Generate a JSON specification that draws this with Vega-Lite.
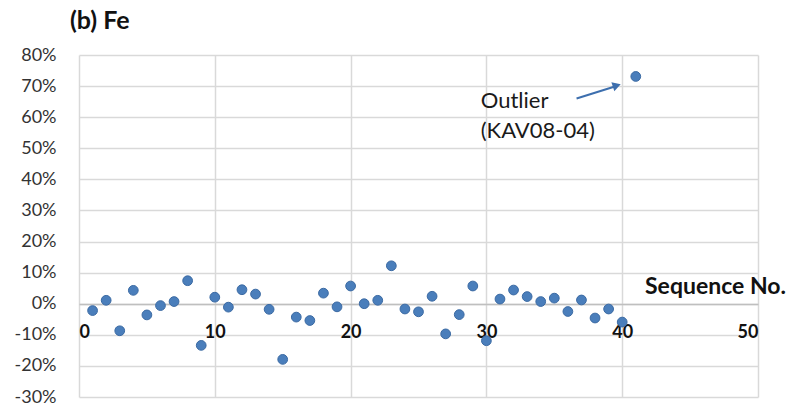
{
  "$schema": "https://vega.github.io/schema/vega-lite/v6.json",
  "width": 679,
  "height": 342,
  "autosize": "none",
  "padding": {"left": 79, "top": 55, "right": 33, "bottom": 22},
  "background": "white",
  "title": {"text": "(b) Fe", "anchor": "start", "frame": "group", "dx": -9, "dy": 27, "offset": 14, "fontSize": 25, "font": "Lato", "fontWeight": "bold", "color": "#111111", "baseline": "bottom"},
  "config": {"view": {"stroke": null}, "font": "Lato", "axisY": {"grid": true, "gridColor": "#d9d9d9", "gridWidth": 1.5}},
  "encoding": {
    "x": {"field": "seq", "type": "quantitative", "scale": {"domain": [0, 50], "nice": false},
      "axis": {"values": [0, 10, 20, 30, 40, 50], "offset": -93, "ticks": false, "domainColor": "#bfbfbf", "domainWidth": 1.5,
        "grid": true, "gridColor": "#d9d9d9", "gridWidth": 1.5, "labelFont": "Lato", "labelFontSize": 18, "labelFontWeight": "bold", "labelColor": "#111111",
        "labelPadding": 19, "labelBaseline": "top", "labelOverlap": false,
        "title": "Sequence No.", "titleFont": "Lato", "titleFontSize": 23, "titleFontWeight": "bold", "titleColor": "#111111",
        "titleX": 636, "titleY": -18, "titleAnchor": null, "titleAlign": "center", "titleBaseline": "middle"}},
    "y": {"field": "diff", "type": "quantitative", "scale": {"domain": [-0.3, 0.8], "nice": false, "zero": false},
      "axis": {"values": [-0.3, -0.2, -0.1, 0, 0.1, 0.2, 0.3, 0.4, 0.5, 0.6, 0.7, 0.8], "labelExpr": "round(datum.value*100) + '%'",
        "ticks": false, "domain": false, "labelFont": "Lato", "labelFontSize": 18,
        "labelColor": "#333333", "labelPadding": 23, "labelOverlap": false, "labelFlush": false, "title": null}}
  },
  "layer": [
    {
      "data": {"values": [
        {"seq": 1, "diff": -0.022}, {"seq": 2, "diff": 0.011}, {"seq": 3, "diff": -0.087}, {"seq": 4, "diff": 0.043},
        {"seq": 5, "diff": -0.036}, {"seq": 6, "diff": -0.006}, {"seq": 7, "diff": 0.007}, {"seq": 8, "diff": 0.074},
        {"seq": 9, "diff": -0.134}, {"seq": 10, "diff": 0.021}, {"seq": 11, "diff": -0.011}, {"seq": 12, "diff": 0.045},
        {"seq": 13, "diff": 0.031}, {"seq": 14, "diff": -0.018}, {"seq": 15, "diff": -0.179}, {"seq": 16, "diff": -0.043},
        {"seq": 17, "diff": -0.054}, {"seq": 18, "diff": 0.034}, {"seq": 19, "diff": -0.010}, {"seq": 20, "diff": 0.057},
        {"seq": 21, "diff": 0.000}, {"seq": 22, "diff": 0.011}, {"seq": 23, "diff": 0.122}, {"seq": 24, "diff": -0.017},
        {"seq": 25, "diff": -0.026}, {"seq": 26, "diff": 0.024}, {"seq": 27, "diff": -0.097}, {"seq": 28, "diff": -0.035},
        {"seq": 29, "diff": 0.057}, {"seq": 30, "diff": -0.119}, {"seq": 31, "diff": 0.015}, {"seq": 32, "diff": 0.044},
        {"seq": 33, "diff": 0.023}, {"seq": 34, "diff": 0.007}, {"seq": 35, "diff": 0.018}, {"seq": 36, "diff": -0.025},
        {"seq": 37, "diff": 0.012}, {"seq": 38, "diff": -0.046}, {"seq": 39, "diff": -0.017}, {"seq": 40, "diff": -0.059},
        {"seq": 41, "diff": 0.731}
      ]},
      "mark": {"type": "point", "filled": true, "shape": "circle", "size": 95, "fill": "#4a7ebb", "stroke": "#3b6aa3", "strokeWidth": 1, "opacity": 1}
    },
    {
      "data": {"values": [{"seq": 29.58, "diff": 0.631, "label": "Outlier"}, {"seq": 29.58, "diff": 0.534, "label": "(KAV08-04)"}]},
      "mark": {"type": "text", "align": "left", "baseline": "alphabetic", "font": "Lato", "fontSize": 22, "color": "#1a1a1a"},
      "encoding": {"text": {"field": "label"}}
    },
    {
      "data": {"values": [{"seq": 36.64, "diff": 0.66, "seq2": 39.4, "diff2": 0.698}]},
      "mark": {"type": "rule", "color": "#3d6fae", "strokeWidth": 2},
      "encoding": {"x2": {"field": "seq2"}, "y2": {"field": "diff2"}}
    },
    {
      "data": {"values": [{"seq": 39.6, "diff": 0.702}]},
      "mark": {"type": "point", "shape": "triangle-right", "filled": true, "size": 90, "angle": -18, "color": "#3d6fae", "opacity": 1}
    }
  ]
}
